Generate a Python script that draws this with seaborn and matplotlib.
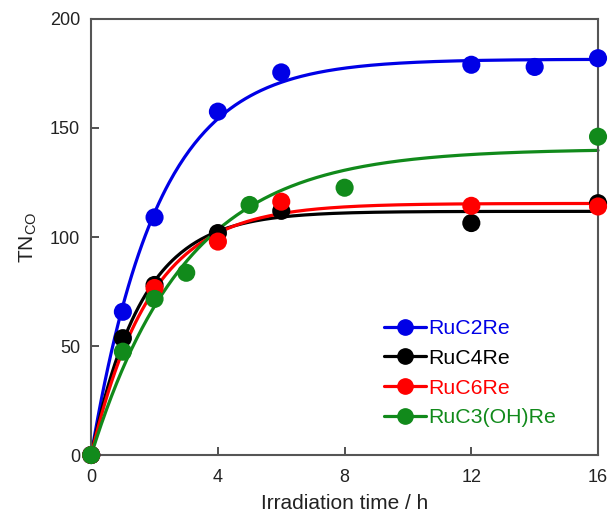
import numpy as np
import pandas as pd
import matplotlib
matplotlib.use("Agg")
import matplotlib.pyplot as plt
import seaborn as sns
from matplotlib.lines import Line2D

# ---- data ----
series_names = ["RuC2Re", "RuC4Re", "RuC6Re", "RuC3(OH)Re"]
series_colors = ["#0000e6", "#000000", "#ff0000", "#118a1b"]

t_ruc2 = [0, 1, 2, 4, 6, 12, 14, 16]
tn_ruc2 = [0, 65.7, 109, 157.5, 175.5, 179, 178, 182]

t_ruc4 = [0, 1, 2, 4, 6, 12, 16]
tn_ruc4 = [0, 53.6, 78, 101.8, 112, 106.4, 115.5]

t_ruc6 = [0, 2, 4, 6, 12, 16]
tn_ruc6 = [0, 76.6, 97.9, 116.2, 114.3, 114]

t_ruc3oh = [0, 1, 2, 3, 5, 8, 16]
tn_ruc3oh = [0, 47.4, 71.6, 83.6, 114.7, 122.6, 146]

x_ticks = [0, 4, 8, 12, 16]
y_ticks = [0, 50, 100, 150, 200]

all_t = [t_ruc2, t_ruc4, t_ruc6, t_ruc3oh]
all_tn = [tn_ruc2, tn_ruc4, tn_ruc6, tn_ruc3oh]

# ---- build tables ----
rows = []
for name, ts, ys in zip(series_names, all_t, all_tn):
    for t, y in zip(ts, ys):
        rows.append({"series": name, "t": t, "TN": y})
df = pd.DataFrame(rows)


def fit_saturation(ts, ys):
    ts = np.asarray(ts, float)
    ys = np.asarray(ys, float)
    best = None
    for k in np.linspace(0.02, 2.0, 2000):
        f = 1 - np.exp(-k * ts)
        A = (ys * f).sum() / (f * f).sum()
        err = ((ys - A * f) ** 2).sum()
        if best is None or err < best[0]:
            best = (err, A, k)
    return best[1], best[2]


tgrid = np.linspace(0, 16, 300)
crow = []
for name, ts, ys in zip(series_names, all_t, all_tn):
    A, k = fit_saturation(ts, ys)
    for t in tgrid:
        crow.append({"series": name, "t": t, "TN": A * (1 - np.exp(-k * t))})
cdf = pd.DataFrame(crow)

# ---- plot ----
sns.set_style("white")
plt.rcParams["font.family"] = ["Liberation Sans", "DejaVu Sans"]
plt.rcParams["mathtext.fontset"] = "custom"
plt.rcParams["mathtext.rm"] = "Liberation Sans"

fig = plt.figure(figsize=(6.08, 5.13), dpi=100)
ax = fig.add_axes([0.150, 0.113, 0.8336, 0.850])

palette = dict(zip(series_names, series_colors))
for name in series_names:
    sub_c = cdf[cdf.series == name]
    sns.lineplot(data=sub_c, x="t", y="TN", color=palette[name], lw=2.3,
                 ax=ax, legend=False, clip_on=False, zorder=2)
for name in series_names:
    sub = df[df.series == name]
    sns.scatterplot(data=sub, x="t", y="TN", color=palette[name], s=170,
                    edgecolor="none", ax=ax, legend=False, clip_on=False, zorder=3)

ax.set_xlim(0, 16)
ax.set_ylim(0, 200)
ax.set_xticks(x_ticks)
ax.set_yticks(y_ticks)
ax.tick_params(direction="in", length=6, width=1.2, labelsize=13, colors="#333333",
               bottom=True, left=True, top=False, right=False)
ax.tick_params(axis="x", pad=10)
ax.tick_params(axis="y", pad=8)
for lab in ax.get_xticklabels() + ax.get_yticklabels():
    lab.set_color("#222222")
for sp in ax.spines.values():
    sp.set_color("#555555")
    sp.set_linewidth(1.5)

ax.set_xlabel("Irradiation time / h", fontsize=15, labelpad=6, color="#222222")
ax.set_ylabel(r"TN$_{\mathregular{CO}}$", fontsize=15, labelpad=8, color="#222222")

handles = [Line2D([0], [0], color=c, lw=2.3, marker="o", markersize=11)
           for c in series_colors]
leg = ax.legend(handles, series_names, loc="lower right", bbox_to_anchor=(0.955, 0.02),
                frameon=False, fontsize=15.3, handlelength=2.0, handletextpad=0.1,
                labelspacing=0.5)
for txt, c in zip(leg.get_texts(), series_colors):
    txt.set_color(c)

fig.savefig("out.png", dpi=100)
